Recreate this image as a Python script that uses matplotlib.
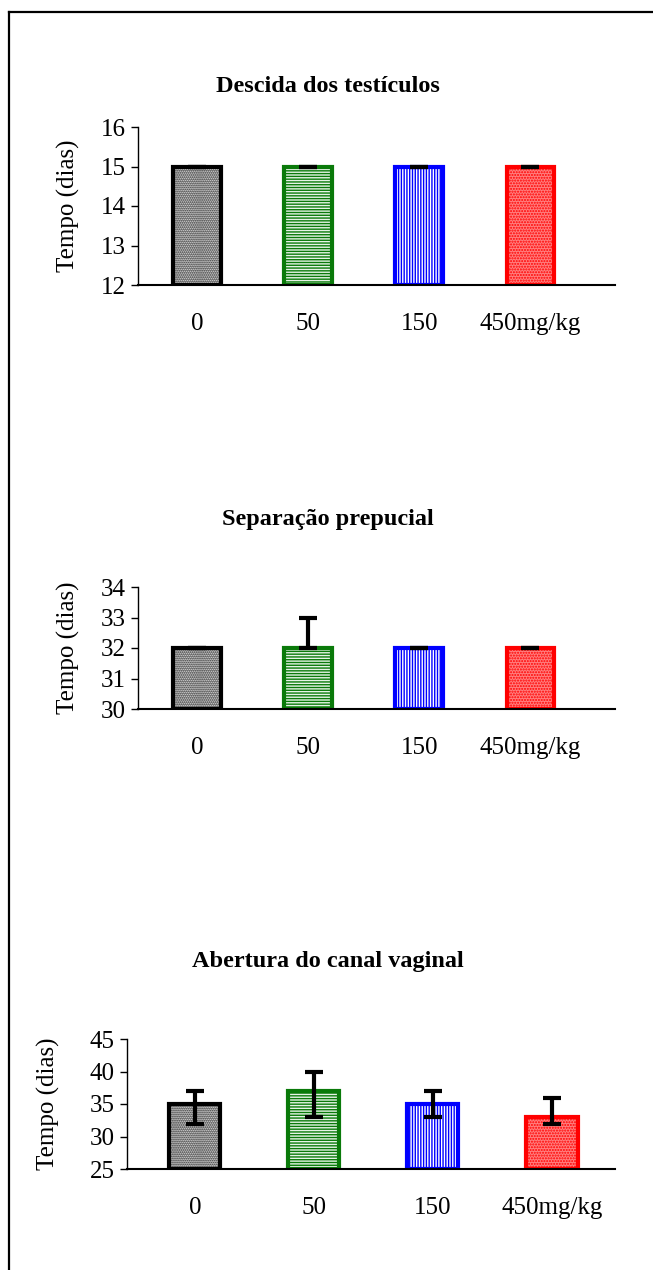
import matplotlib
matplotlib.use("Agg")
import matplotlib.pyplot as plt
from matplotlib.lines import Line2D

plt.rcParams['font.family'] = ['Liberation Serif', 'DejaVu Serif']
plt.rcParams['hatch.linewidth'] = 1.0

# Dose groups (same for every panel)
doses = ['0', '50', '150', '450mg/kg']
edge_colors = ['black', '#0a7a0a', '#0000ff', '#ff0000']
face_colors = ['#ffffff', '#e6f3e6', '#ffffff', '#ff8080']
hatches = ['........', '------', '||||||', '......']

# Descida dos testículos
testis_mean = [15, 15, 15, 15]
testis_lo = [0, 0, 0, 0]
testis_hi = [0, 0, 0, 0]

# Separação prepucial
prep_mean = [32, 32, 32, 32]
prep_lo = [0, 0, 0, 0]
prep_hi = [0, 1, 0, 0]

# Abertura do canal vaginal
vag_mean = [35, 37, 35, 33]
vag_lo = [3, 4, 2, 1]
vag_hi = [2, 3, 2, 3]

W, H = 653, 1270
fig = plt.figure(figsize=(W / 100, H / 100), dpi=100)


def px_axes(left, right, top, bottom):
    return fig.add_axes([left / W, 1 - bottom / H, (right - left) / W, (bottom - top) / H])


panels = [
    # title, means, lo, hi, ylim, yticks, (left, right, top, bottom), xlim, title y, ylabel x
    ('Descida dos testículos', testis_mean, testis_lo, testis_hi, (12, 16), [12, 13, 14, 15, 16],
     (138, 615, 127, 285), (-0.53, 3.76), 87, 68),
    ('Separação prepucial', prep_mean, prep_lo, prep_hi, (30, 34), [30, 31, 32, 33, 34],
     (138, 615, 587, 709), (-0.53, 3.76), 520, 68),
    ('Abertura do canal vaginal', vag_mean, vag_lo, vag_hi, (25, 45), [25, 30, 35, 40, 45],
     (127, 615, 1039, 1169), (-0.57, 3.53), 962, 48),
]

for title, mean, lo, hi, ylim, yticks, box, xlim, ty, ylx in panels:
    ax = px_axes(*box)
    x = list(range(len(doses)))
    ax.bar(x, [m - ylim[0] for m in mean], bottom=ylim[0], width=0.43,
           color=face_colors, edgecolor=edge_colors, linewidth=3, zorder=2)
    # hatch each bar separately so the pattern takes the bar colour
    for i, p in enumerate(ax.patches):
        p.set_hatch(hatches[i])
    ax.errorbar(x, mean, yerr=[lo, hi], fmt='none', ecolor='black',
                elinewidth=3, capsize=6.5, capthick=3, zorder=3)
    ax.set_xlim(*xlim)
    ax.set_ylim(*ylim)
    ax.set_yticks(yticks)
    ax.set_xticks(x)
    ax.set_xticklabels(doses)
    for s in ['top', 'right']:
        ax.spines[s].set_visible(False)
    ax.spines['left'].set_linewidth(1.0)
    ax.spines['bottom'].set_linewidth(1.5)
    ax.tick_params(axis='x', length=0, pad=20, labelsize=18)
    ax.tick_params(axis='y', length=5, width=1.0, direction='out', labelsize=18, pad=4)
    fig.text(328 / W, 1 - ty / H, title, ha='center', va='center',
             fontsize=17.5, fontweight='bold')
    yc = (box[2] + box[3]) / 2
    fig.text(ylx / W, 1 - yc / H, 'Tempo (dias)', rotation=90,
             ha='center', va='center', fontsize=18)

# page frame, open on the right and bottom
fig.add_artist(Line2D([9 / W, 9 / W], [0, 1 - 12 / H], color='black', lw=1.6,
                      transform=fig.transFigure))
fig.add_artist(Line2D([9 / W, 1], [1 - 12 / H, 1 - 12 / H], color='black', lw=1.6,
                      transform=fig.transFigure))

fig.savefig('out.png', dpi=100, facecolor='white')
